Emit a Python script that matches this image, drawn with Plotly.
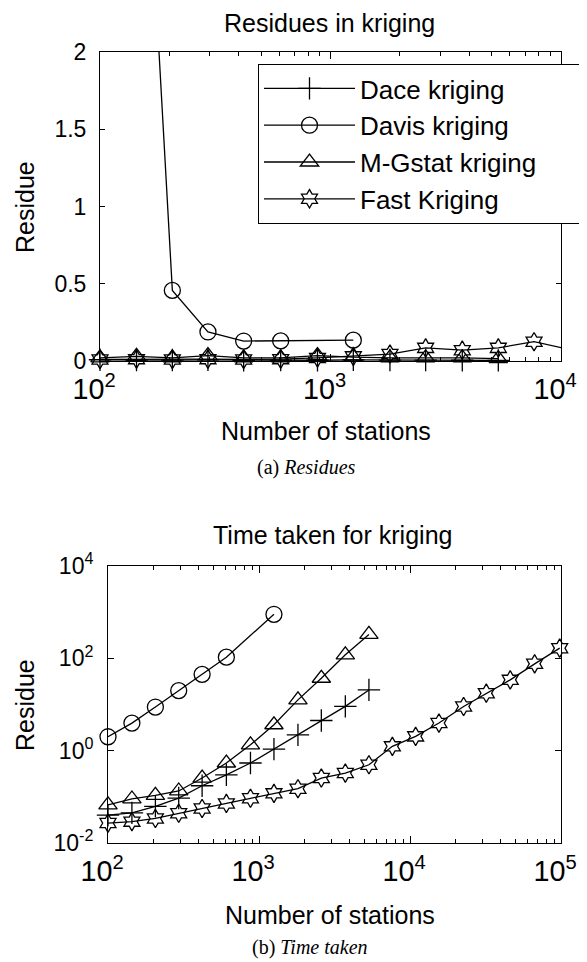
import plotly.graph_objects as go

# ---------------- data ----------------
x_stations = [100, 144, 206, 294, 420, 608, 878, 1256, 1811, 2587, 3730, 5346]
x_davis = [100, 144, 206, 294, 420, 608, 1256]
x_fast = [100, 144, 206, 294, 420, 608, 878, 1256, 1811, 2587, 3730, 5346,
          7640, 10900, 15550, 22650, 32000, 46100, 66900, 98000]

# residues (top panel)
res_dace = [0.008, 0.006, 0.006, 0.007, 0.005, 0.006, 0.005, 0.007, 0.006, 0.006, 0.005, 0.004]
res_davis = [12.0, 4.6, 0.457, 0.188, 0.129, 0.130, 0.135]
res_mgstat = [0.02, 0.03, 0.02, 0.035, 0.02, 0.02, 0.035, 0.025, 0.02, 0.02, 0.02, 0.015]
res_fast = [0.01, 0.012, 0.01, 0.012, 0.01, 0.012, 0.02, 0.03, 0.045, 0.085, 0.07, 0.085, 0.125, 0.074]

# time taken (bottom panel)
time_dace = [0.040, 0.045, 0.062, 0.094, 0.174, 0.30, 0.54, 1.08, 2.2, 4.5, 9.1, 20.7]
time_davis = [2.0, 3.95, 8.8, 20, 45, 106, 900]
time_mgstat = [0.067, 0.090, 0.108, 0.134, 0.255, 0.54, 1.34, 3.64, 12.6, 37, 119, 330]
time_fast = [0.027, 0.029, 0.034, 0.044, 0.056, 0.072, 0.093, 0.119, 0.150, 0.255, 0.327, 0.495,
             1.24, 2.04, 3.96, 9.06, 17.6, 34.2, 76, 166]

names = ["Dace kriging", "Davis kriging", "M-Gstat kriging", "Fast Kriging"]
symbols = ["cross-thin-open", "circle-open", "triangle-up-open", "hexagram-open"]
sizes = [16, 16, 16, 14]

y_top_ticks = [0, 0.5, 1, 1.5, 2]
y_bot_ticks = [0.01, 1, 100, 10000]
y_bot_text = ["10<sup>-2</sup>", "10<sup>0</sup>", "10<sup>2</sup>", "10<sup>4</sup>"]

# the page body has an 8px margin: the figure is placed at (8, 8)
OFF = 8
W, H = 587 - OFF, 962 - OFF
FONT = "Liberation Sans"


def fx(px):
    return (px - OFF) / W


def fy(py):
    return 1 - (py - OFF) / H


fig = go.Figure()

top_sets = [(x_stations, res_dace), (x_davis, res_davis), (x_stations, res_mgstat),
            (x_fast[:len(res_fast)], res_fast)]
bot_sets = [(x_stations, time_dace), (x_davis, time_davis), (x_stations, time_mgstat),
            (x_fast, time_fast)]

for i, (xs, ys) in enumerate(top_sets):
    fig.add_trace(go.Scatter(
        x=xs, y=ys, name=names[i], mode="lines+markers", xaxis="x", yaxis="y",
        cliponaxis=False,
        line=dict(color="black", width=1.3),
        marker=dict(symbol=symbols[i], size=sizes[i], color="black",
                    line=dict(color="black", width=1.3))))

for i, (xs, ys) in enumerate(bot_sets):
    fig.add_trace(go.Scatter(
        x=xs, y=ys, name=names[i], mode="lines+markers", xaxis="x2", yaxis="y2",
        showlegend=False, cliponaxis=False,
        line=dict(color="black", width=1.3),
        marker=dict(symbol=symbols[i], size=sizes[i], color="black",
                    line=dict(color="black", width=1.3))))

axis_common = dict(showline=True, linecolor="black", linewidth=1, mirror="allticks",
                   ticks="inside", tickcolor="black", showgrid=False, zeroline=False,
                   tickfont=dict(family=FONT, size=23, color="black"))
minor_log = dict(ticks="inside", ticklen=4, tickcolor="black", dtick="D1", showgrid=False)

fig.update_layout(
    width=W, height=H, autosize=False,
    margin=dict(l=0, r=0, t=0, b=0, autoexpand=False),
    paper_bgcolor="white", plot_bgcolor="white",
    font=dict(family=FONT, color="black"),
    xaxis=dict(axis_common, type="log", range=[2, 4], domain=[fx(100), fx(561)], anchor="y",
               tickmode="linear", tick0=0, dtick=1, exponentformat="power",
               ticklen=7, ticklabelstandoff=4, ticklabelshift=-6, minor=minor_log),
    yaxis=dict(axis_common, range=[0, 2], domain=[fy(361), fy(52)], anchor="x",
               tickvals=y_top_ticks, ticklen=5, ticklabelstandoff=8),
    xaxis2=dict(axis_common, type="log", range=[2, 5], domain=[fx(108), fx(561)], anchor="y2",
                tickmode="linear", tick0=0, dtick=1, exponentformat="power",
                ticklen=7, ticklabelstandoff=4, ticklabelshift=-6, minor=minor_log),
    yaxis2=dict(axis_common, type="log", range=[-2, 4], domain=[fy(843), fy(566)],
                anchor="x2", tickvals=y_bot_ticks, ticktext=y_bot_text, ticklen=6,
                ticklabelstandoff=9),
    showlegend=True,
    legend=dict(x=fx(258), y=fy(64), xanchor="left", yanchor="top",
                orientation="h", entrywidth=282, entrywidthmode="pixels",
                bordercolor="black", borderwidth=1, bgcolor="white",
                font=dict(family=FONT, size=26, color="black"),
                itemwidth=91, traceorder="normal"),
)


def txt(text, x, y, size, family=FONT, angle=0):
    fig.add_annotation(text=text, x=fx(x), y=fy(y), xref="paper", yref="paper",
                       showarrow=False, xanchor="center", yanchor="middle", textangle=angle,
                       font=dict(family=family, size=size, color="black"))


txt("Residues in kriging", 329, 23, 25)
txt("Number of stations", 326, 431, 25)
txt("Residue", 25, 207, 25, angle=-90)
txt("(a) <i>Residues</i>", 306, 467, 20, family="Liberation Serif")
txt("Time taken for kriging", 332, 535, 25)
txt("Number of stations", 330, 915, 25)
txt("Residue", 25, 705, 25, angle=-90)
txt("(b) <i>Time taken</i>", 310, 947, 20, family="Liberation Serif")

fig.write_html("out.html")
